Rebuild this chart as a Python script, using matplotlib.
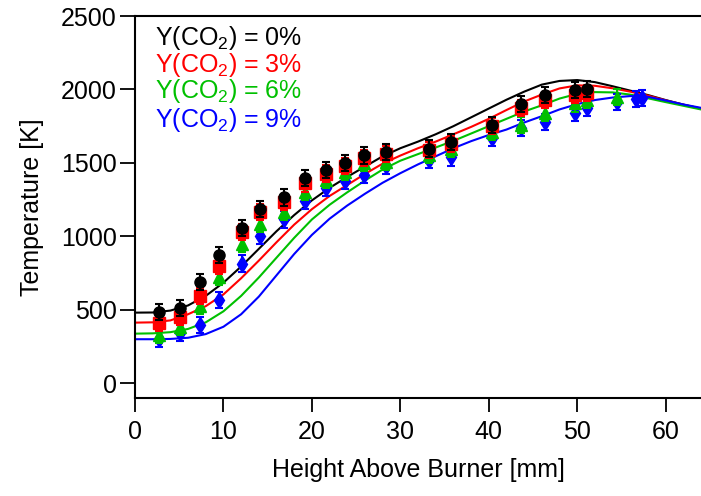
import matplotlib
matplotlib.use("Agg")
import matplotlib.pyplot as plt

plt.rcParams['font.family'] = ['Liberation Sans', 'DejaVu Sans']
plt.rcParams['mathtext.default'] = 'regular'

# ---- data ----
labels = ["Y(CO$_2$) = 0%", "Y(CO$_2$) = 3%", "Y(CO$_2$) = 6%", "Y(CO$_2$) = 9%"]
colors = ["#000000", "#FF0000", "#00C000", "#0000FF"]
markers = ["o", "s", "^", "d"]

x_meas = [2.7, 5.1, 7.3, 9.5, 12.1, 14.1, 16.9, 19.2, 21.6, 23.8, 25.9, 28.4,
          33.3, 35.7, 40.4, 43.6, 46.4, 49.8, 51.1]
x_meas_g = x_meas + [54.5]
x_meas_b = x_meas + [54.5, 56.6, 57.3]

t_0 = [486, 513, 690, 876, 1058, 1185, 1265, 1395, 1453, 1498, 1551, 1576,
       1598, 1645, 1757, 1900, 1962, 1996, 2001]
t_3 = [411, 452, 593, 797, 1031, 1167, 1236, 1360, 1428, 1478, 1533, 1560,
       1590, 1630, 1750, 1871, 1928, 1962, 1975]
t_6 = [327, 384, 527, 724, 947, 1087, 1167, 1303, 1383, 1440, 1500, 1508,
       1553, 1598, 1712, 1757, 1837, 1905, 1928, 1950]
t_9 = [302, 342, 395, 569, 815, 1003, 1115, 1240, 1331, 1375, 1420, 1478,
       1519, 1537, 1667, 1735, 1781, 1837, 1871, 1915, 1933, 1940]

err = 55

x_model = [0, 2, 4, 6, 8, 10, 12, 14, 16, 18, 20, 22, 24, 26, 28, 30, 32,
           34, 36, 38, 40, 42, 44, 46, 48, 50, 52, 54, 56, 58, 60, 62, 64]
m_0 = [481, 482, 495, 530, 595, 685, 795, 915, 1035, 1145, 1245, 1330, 1405,
       1475, 1545, 1600, 1645, 1695, 1750, 1810, 1870, 1930, 1985, 2033, 2058,
       2064, 2050, 2022, 1992, 1962, 1928, 1897, 1870]
m_3 = [413, 415, 428, 470, 525, 605, 715, 835, 960, 1080, 1185, 1275, 1350,
       1425, 1495, 1550, 1600, 1645, 1695, 1745, 1800, 1860, 1918, 1965, 2007,
       2028, 2025, 2008, 1985, 1958, 1926, 1896, 1868]
m_6 = [338, 340, 348, 370, 415, 490, 595, 720, 855, 990, 1115, 1215, 1300,
       1380, 1455, 1515, 1560, 1605, 1650, 1700, 1750, 1800, 1850, 1892, 1938,
       1970, 1982, 1980, 1965, 1940, 1914, 1889, 1864]
m_9 = [300, 300, 302, 310, 335, 385, 470, 590, 735, 880, 1010, 1120, 1210,
       1290, 1365, 1430, 1490, 1545, 1600, 1648, 1690, 1727, 1775, 1818, 1864,
       1900, 1928, 1945, 1955, 1950, 1925, 1898, 1875]

meas = [(x_meas, t_0), (x_meas, t_3), (x_meas_g, t_6), (x_meas_b, t_9)]
models = [m_0, m_3, m_6, m_9]

# ---- figure ----
fig = plt.figure(figsize=(7.01, 4.96), dpi=100)
ax = fig.add_axes([135/701, 98/496, 566/701, 382/496])

for m, c in zip(models, colors):
    ax.plot(x_model, m, color=c, lw=1.5, zorder=2, solid_joinstyle='round')

for i in [3, 2, 1, 0]:
    xs, ts = meas[i]
    ax.errorbar(xs, ts, yerr=err, fmt=markers[i], color=colors[i],
                ms=8 if markers[i] != "d" else 8.5, mec=colors[i], mfc=colors[i],
                elinewidth=1.5, capsize=3.2, capthick=1.5, zorder=3 + (3 - i))

ax.set_xlim(0, 64)
ax.set_ylim(-100, 2500)
ax.set_xticks([0, 10, 20, 30, 40, 50, 60])
ax.set_yticks([0, 500, 1000, 1500, 2000, 2500])
ax.tick_params(direction='out', length=10, width=1.3, labelsize=18)
ax.tick_params(axis='x', pad=6)
ax.tick_params(axis='y', length=11, pad=2)
for s in ['left', 'bottom', 'top']:
    ax.spines[s].set_linewidth(1.5)
ax.spines['right'].set_visible(False)

ax.set_xlabel("Height Above Burner [mm]", fontsize=18, labelpad=10)
ax.set_ylabel("Temperature [K]", fontsize=18, labelpad=12)

ys = [0.924, 0.853, 0.785, 0.709]
for lab, c, y in zip(labels, colors, ys):
    ax.text(0.0353, y, lab, color=c, fontsize=18, transform=ax.transAxes,
            va='baseline', ha='left')

fig.savefig("out.png", dpi=100)
